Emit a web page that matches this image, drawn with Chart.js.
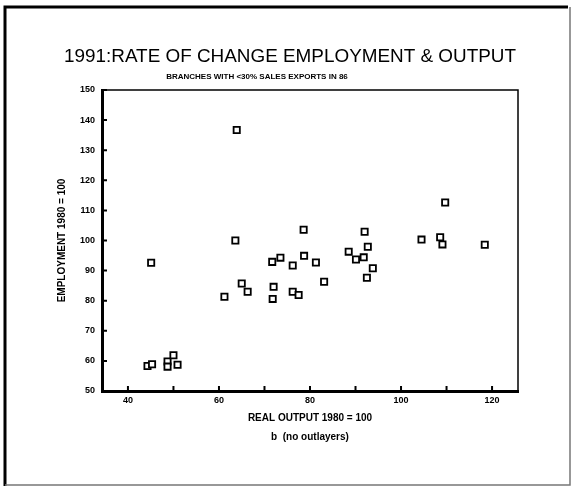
<!DOCTYPE html>
<html>
<head>
<meta charset="utf-8">
<script src="https://cdn.jsdelivr.net/npm/chart.js@4/dist/chart.umd.min.js"></script>
<style>
  html, body { margin: 0; padding: 0; background: #fff; }
  #wrap { width: 573px; height: 487px; }
</style>
</head>
<body>
<div id="wrap"><canvas id="scatter"></canvas></div>
<script>
// real output (1980 = 100) against employment (1980 = 100), one point per branch
const outputVals = [45.1, 63.9, 63.6, 61.2, 65.0, 66.3, 71.7, 72.0, 71.8, 73.5,
                    76.2, 76.2, 77.5, 78.6, 78.7, 81.3, 83.1, 88.5, 90.1, 91.8,
                    92.0, 92.7, 93.8, 92.5, 104.5, 108.6, 109.1, 109.7, 118.4,
                    44.3, 45.3, 48.7, 48.7, 50.0, 50.9];
const employVals = [92.6, 136.7, 100.0, 81.3, 85.7, 83.0, 92.9, 84.6, 80.6, 94.3,
                    91.7, 83.0, 81.9, 103.6, 94.9, 92.7, 86.3, 96.3, 93.7, 94.4,
                    102.9, 97.9, 90.8, 87.6, 100.3, 101.1, 98.7, 112.6, 98.6,
                    58.3, 58.9, 59.8, 58.1, 61.9, 58.7];
const xTicks = [40, 50, 60, 70, 80, 90, 100, 110, 120];
const xLabelled = [40, 60, 80, 100, 120];
const yTicks = [50, 60, 70, 80, 90, 100, 110, 120, 130, 140, 150];

const titleText = '1991:RATE OF CHANGE EMPLOYMENT & OUTPUT';
const subtitleText = 'BRANCHES WITH <30% SALES EXPORTS IN 86';

const points = outputVals.map((x, i) => ({ x: x, y: employVals[i] }));

// frame, titles, inward tick marks, top/right box lines
const decor = {
  id: 'decor',
  beforeDraw(chart) {
    const c = chart.ctx;
    c.save();
    c.fillStyle = '#fff';
    c.fillRect(0, 0, chart.width, chart.height);
    c.strokeStyle = '#000';
    c.lineWidth = 3;
    c.beginPath();
    c.moveTo(5, 486); c.lineTo(5, 7); c.lineTo(568, 7);
    c.stroke();
    c.strokeStyle = '#777';
    c.lineWidth = 1.5;
    c.beginPath();
    c.moveTo(570, 7); c.lineTo(570, 485); c.lineTo(5, 485);
    c.stroke();

    c.fillStyle = '#000';
    c.textAlign = 'center';
    c.textBaseline = 'middle';
    c.font = '19px "Liberation Sans", Arial, sans-serif';
    c.fillText(titleText, 290, 57, 452);
    c.font = 'bold 8px "Liberation Sans", Arial, sans-serif';
    c.fillText(subtitleText, 257, 77, 184);
    c.restore();
  },
  afterDatasetsDraw(chart) {
    const c = chart.ctx;
    const a = chart.chartArea;
    const xs = chart.scales.x, ys = chart.scales.y;
    c.save();
    c.strokeStyle = '#000';
    c.lineWidth = 1.5;
    c.strokeRect(a.left, a.top, a.right - a.left, a.bottom - a.top);
    c.lineWidth = 2;
    c.beginPath();
    xTicks.forEach(v => {
      const px = xs.getPixelForValue(v);
      c.moveTo(px, a.bottom); c.lineTo(px, a.bottom - 5);
    });
    yTicks.forEach(v => {
      const py = ys.getPixelForValue(v);
      c.moveTo(a.left, py); c.lineTo(a.left + 5, py);
    });
    c.stroke();
    c.restore();
  }
};

const tickFont = { family: '"Liberation Sans", Arial, sans-serif', size: 9, weight: 'bold' };
const axisFont = { family: '"Liberation Sans", Arial, sans-serif', size: 10, weight: 'bold' };

new Chart(document.getElementById('scatter').getContext('2d'), {
  type: 'scatter',
  data: {
    datasets: [{
      data: points,
      pointStyle: 'rect',
      pointRadius: 4.4,
      pointHoverRadius: 4.4,
      pointBorderWidth: 1.8,
      pointBackgroundColor: '#fff',
      pointBorderColor: '#000'
    }]
  },
  options: {
    responsive: true,
    maintainAspectRatio: false,
    animation: false,
    events: [],
    layout: { padding: { left: 50, right: 55, top: 90, bottom: 0 } },
    plugins: {
      legend: { display: false },
      tooltip: { enabled: false }
    },
    scales: {
      x: {
        type: 'linear',
        min: 34.3,
        max: 125.7,
        afterBuildTicks: s => { s.ticks = xTicks.map(v => ({ value: v })); },
        afterFit: s => { s.height = 96; },
        grid: { display: false, drawTicks: false },
        border: { color: '#000', width: 3 },
        ticks: {
          color: '#000',
          font: tickFont,
          padding: 4,
          maxRotation: 0,
          autoSkip: false,
          callback: v => xLabelled.includes(v) ? String(v) : ''
        },
        title: {
          display: true,
          text: ['REAL OUTPUT 1980 = 100', 'b  (no outlayers)'],
          color: '#000',
          font: { ...axisFont, lineHeight: '19px' },
          padding: { top: 0, bottom: 40 }
        }
      },
      y: {
        type: 'linear',
        min: 50,
        max: 150,
        afterBuildTicks: s => { s.ticks = yTicks.map(v => ({ value: v })); },
        afterFit: s => { s.width = 52; },
        grid: { display: false, drawTicks: false },
        border: { color: '#000', width: 3 },
        ticks: {
          color: '#000',
          font: tickFont,
          padding: 7,
          autoSkip: false
        },
        title: {
          display: true,
          text: 'EMPLOYMENT 1980 = 100',
          color: '#000',
          font: { ...axisFont, lineHeight: '10px' },
          padding: { top: 7, bottom: 0 }
        }
      }
    }
  },
  plugins: [decor]
});
</script>
</body>
</html>
